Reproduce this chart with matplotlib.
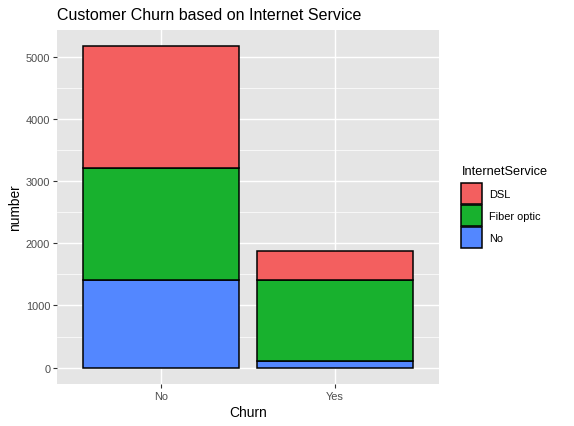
import matplotlib
matplotlib.use("Agg")
import matplotlib.pyplot as plt
from matplotlib.patches import Patch
from matplotlib.ticker import MultipleLocator

# counts per churn group, stacked bottom -> top: No, Fiber optic, DSL
churn = ["No", "Yes"]
services = ["DSL", "Fiber optic", "No"]
dsl = [1962, 459]
fiber = [1799, 1297]
no_service = [1413, 113]

colors = {"DSL": "#F35F5F", "Fiber optic": "#18B12E", "No": "#5387FF"}

plt.rcParams["font.family"] = ["Liberation Sans", "DejaVu Sans"]

fig = plt.figure(figsize=(5.74, 4.27), dpi=100)
ax = fig.add_axes([57.3 / 574, 42.3 / 427, 381.7 / 574, 353.7 / 427])
ax.set_facecolor("#E5E5E5")

xpos = [1, 2]
bottom = [0, 0]
for name, vals in [("No", no_service), ("Fiber optic", fiber), ("DSL", dsl)]:
    ax.bar(xpos, vals, width=0.9, bottom=bottom, color=colors[name],
           edgecolor="black", linewidth=1.1, zorder=3)
    bottom = [b + v for b, v in zip(bottom, vals)]

top = max(bottom)
ax.set_xlim(0.4, 2.6)
ax.set_ylim(-0.05 * top, 1.05 * top)
ax.set_xticks(xpos)
ax.set_xticklabels(churn)
ax.yaxis.set_major_locator(MultipleLocator(1000))
ax.yaxis.set_minor_locator(MultipleLocator(500))
ax.grid(which="major", color="white", linewidth=1.0, zorder=0)
ax.grid(which="minor", axis="y", color="white", linewidth=0.5, zorder=0)
ax.set_axisbelow(True)
for s in ax.spines.values():
    s.set_visible(False)
ax.tick_params(axis="both", which="major", length=3, width=0.8, color="#333333",
               labelsize=7.9, labelcolor="#4D4D4D", pad=2)
ax.tick_params(which="minor", length=0)

ax.set_xlabel("Churn", fontsize=9.9, labelpad=3)
ax.set_ylabel("number", fontsize=9.9, labelpad=3)
ax.set_title("Customer Churn based on Internet Service", fontsize=11.5,
             loc="left", pad=8)

handles = [Patch(facecolor=colors[s], edgecolor="black", linewidth=1.1)
           for s in services]
leg = fig.legend(handles, services, title="InternetService",
                 loc="upper left", bbox_to_anchor=(456 / 574, 1 - 161 / 427),
                 frameon=False, fontsize=7.9, title_fontsize=9.2,
                 handlelength=1.9, handleheight=2.6, labelspacing=0.05,
                 handletextpad=0.6, borderpad=0)
leg._legend_box.align = "left"
leg._legend_box.sep = 4

fig.savefig("out.png", dpi=100)
